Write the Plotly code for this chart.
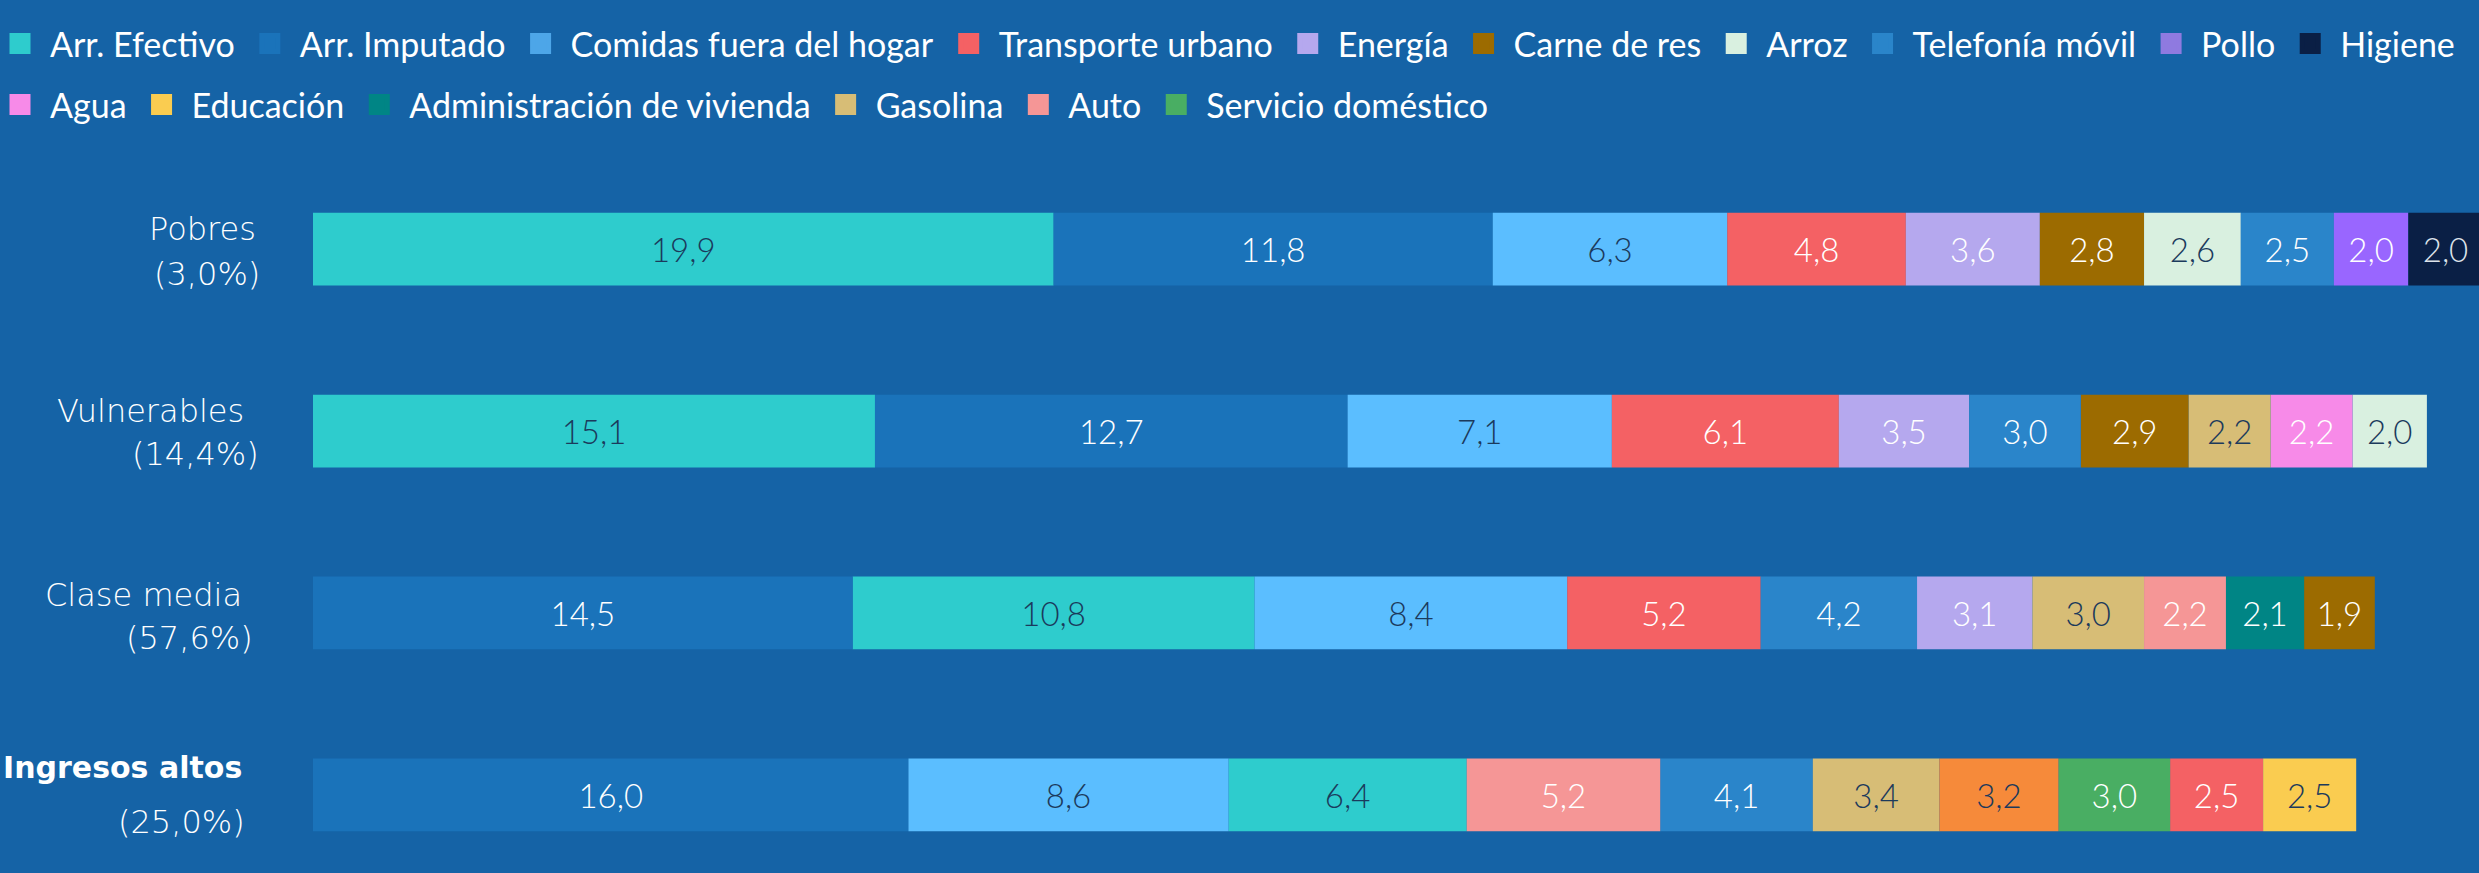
import plotly.graph_objects as go

# ---------------- data ----------------
group_names = ["Pobres", "Vulnerables", "Clase media", "Ingresos altos"]
group_shares = ["(3,0%)", "(14,4%)", "(57,6%)", "(25,0%)"]

pobres_cats = ["Arr. Efectivo", "Arr. Imputado", "Comidas fuera del hogar", "Transporte urbano",
               "Energía", "Carne de res", "Arroz", "Telefonía móvil", "Pollo", "Higiene"]
pobres_vals = [19.9, 11.8, 6.3, 4.8, 3.6, 2.8, 2.6, 2.5, 2.0, 2.0]

vuln_cats = ["Arr. Efectivo", "Arr. Imputado", "Comidas fuera del hogar", "Transporte urbano",
             "Energía", "Telefonía móvil", "Carne de res", "Gasolina", "Agua", "Arroz"]
vuln_vals = [15.1, 12.7, 7.1, 6.1, 3.5, 3.0, 2.9, 2.2, 2.2, 2.0]

media_cats = ["Arr. Imputado", "Arr. Efectivo", "Comidas fuera del hogar", "Transporte urbano",
              "Telefonía móvil", "Energía", "Gasolina", "Auto", "Administración de vivienda",
              "Carne de res"]
media_vals = [14.5, 10.8, 8.4, 5.2, 4.2, 3.1, 3.0, 2.2, 2.1, 1.9]

altos_cats = ["Arr. Imputado", "Comidas fuera del hogar", "Arr. Efectivo", "Auto",
              "Telefonía móvil", "Gasolina", "Otro", "Servicio doméstico", "Transporte urbano",
              "Educación"]
altos_vals = [16.0, 8.6, 6.4, 5.2, 4.1, 3.4, 3.2, 3.0, 2.5, 2.5]

legend_row1 = ["Arr. Efectivo", "Arr. Imputado", "Comidas fuera del hogar", "Transporte urbano",
               "Energía", "Carne de res", "Arroz", "Telefonía móvil", "Pollo", "Higiene"]
legend_row2 = ["Agua", "Educación", "Administración de vivienda", "Gasolina", "Auto",
               "Servicio doméstico"]
hidden_cats = ["Otro"]

# ---------------- styles ----------------
BG = "#1563A6"
DARK = "#1B3A5C"
WHITE = "#FFFFFF"
colors = {
    "Arr. Efectivo": "#2ECCCD",
    "Arr. Imputado": "#1A73BA",
    "Comidas fuera del hogar": "#5BBEFF",
    "Transporte urbano": "#F46164",
    "Energía": "#B5A8EE",
    "Carne de res": "#9C6B00",
    "Arroz": "#D9F0E0",
    "Telefonía móvil": "#2A85CA",
    "Pollo": "#9966FF",
    "Higiene": "#0A1F45",
    "Agua": "#F78AE8",
    "Educación": "#FACC50",
    "Administración de vivienda": "#008585",
    "Gasolina": "#D7BD76",
    "Auto": "#F59696",
    "Servicio doméstico": "#49AE63",
    "Otro": "#F68A3A",
}
legend_colors = dict(colors)
legend_colors["Comidas fuera del hogar"] = "#4DA6E8"
legend_colors["Pollo"] = "#8F7AE0"

text_colors = {
    "Arr. Efectivo": DARK, "Arr. Imputado": WHITE, "Comidas fuera del hogar": DARK,
    "Transporte urbano": WHITE, "Energía": WHITE, "Carne de res": WHITE, "Arroz": DARK,
    "Telefonía móvil": WHITE, "Pollo": WHITE, "Higiene": "#DDE3EA", "Agua": WHITE,
    "Educación": DARK, "Administración de vivienda": WHITE, "Gasolina": DARK,
    "Auto": WHITE, "Servicio doméstico": WHITE, "Otro": DARK,
}

FONT = "Lato"
LABEL_FONT = "DejaVu Sans"
name_right = [258, 246, 244, 244]     # right edge (px) of each group name
share_right = [262, 261, 255, 247]    # right edge (px) of each share label
name_dy = [20, 20, 18, 27]            # px above bar centre
share_dy = [25, 23, 25, 27]           # px below bar centre

rows = [(group_names[0], pobres_cats, pobres_vals),
        (group_names[1], vuln_cats, vuln_vals),
        (group_names[2], media_cats, media_vals),
        (group_names[3], altos_cats, altos_vals)]


def fmt(v):
    return f"{v:.1f}".replace(".", ",")


fig = go.Figure()
for cat in legend_row1 + legend_row2 + hidden_cats:
    ys, xs, bases, texts = [], [], [], []
    for label, cats, vals in rows:
        cum = 0.0
        for c, v in zip(cats, vals):
            if c == cat:
                ys.append(label)
                xs.append(v)
                bases.append(cum)
                texts.append(fmt(v))
            cum += v
    fig.add_trace(go.Bar(
        y=ys, x=xs, base=bases, orientation="h", name=cat,
        marker=dict(color=colors[cat], line=dict(width=0)),
        width=0.4,
        text=texts, textposition="inside", insidetextanchor="middle", textangle=0,
        insidetextfont=dict(family=FONT, size=33, color=text_colors[cat], weight=300),
        showlegend=False,
        hoverinfo="name+x",
    ))

# legend entries (square swatches)
for cat in legend_row1 + legend_row2:
    fig.add_trace(go.Scatter(
        x=[None], y=[None], mode="markers", name=cat,
        marker=dict(symbol="square", size=16, color=legend_colors[cat],
                    line=dict(width=5, color=legend_colors[cat])),
        legend="legend2" if cat in legend_row2 else "legend",
        hoverinfo="skip",
    ))

L, T = 313, 140
W, H = 2479, 873
pw, ph = W - L, H - T

# group labels (name + population share) beside each bar
annotations = []
for i, (name, share) in enumerate(zip(group_names, group_shares)):
    bold = name == "Ingresos altos"
    annotations.append(dict(
        text=f"<b>{name}</b>" if bold else name,
        xref="paper", x=(name_right[i] - L) / pw, xanchor="right",
        yref="y", y=name, yanchor="middle", yshift=name_dy[i],
        showarrow=False,
        font=dict(family=LABEL_FONT, size=30 if bold else 32, color=WHITE,
                  weight=700 if bold else 300),
    ))
    annotations.append(dict(
        text=share,
        xref="paper", x=(share_right[i] - L) / pw, xanchor="right",
        yref="y", y=name, yanchor="middle", yshift=-share_dy[i],
        showarrow=False,
        font=dict(family=LABEL_FONT, size=32, color=WHITE, weight=300),
    ))

fig.update_layout(
    width=W, height=H,
    barmode="overlay",
    paper_bgcolor=BG, plot_bgcolor=BG,
    margin=dict(l=L, r=0, t=T, b=0, autoexpand=False),
    font=dict(family=FONT, color=WHITE, size=28),
    xaxis=dict(range=[0, 58.2], visible=False, showgrid=False, zeroline=False,
               automargin=False),
    yaxis=dict(type="category", categoryarray=group_names, range=[3.43, -0.6],
               showgrid=False, zeroline=False, showline=False, ticks="",
               showticklabels=False, automargin=False),
    annotations=annotations,
    legend=dict(orientation="h", x=-(L + 10) / pw, xanchor="left", y=(H - 15) / ph,
                yanchor="top",
                font=dict(family=FONT, size=34, color=WHITE), bgcolor="rgba(0,0,0,0)",
                itemwidth=50, traceorder="normal"),
    legend2=dict(orientation="h", x=-(L + 10) / pw, xanchor="left", y=(H - 76) / ph,
                 yanchor="top",
                 font=dict(family=FONT, size=34, color=WHITE), bgcolor="rgba(0,0,0,0)",
                 itemwidth=50, traceorder="normal"),
)

fig.write_html("out.html", config={"displayModeBar": False},
               post_script="document.body.style.margin='0';")
